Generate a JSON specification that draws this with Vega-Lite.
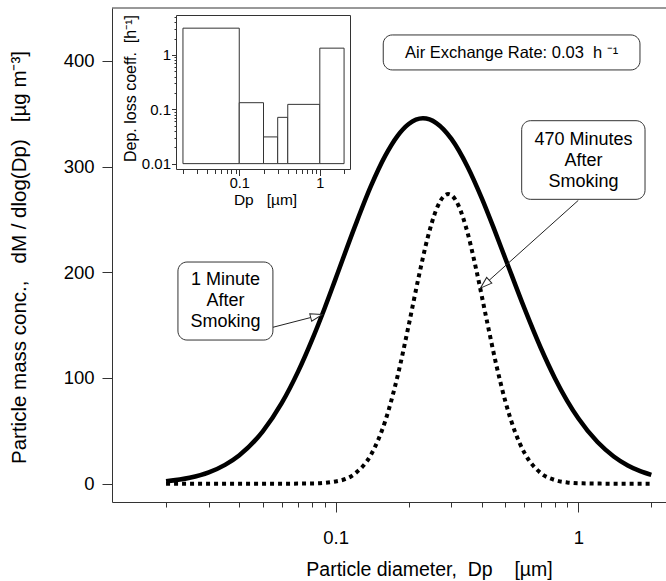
{
  "$schema": "https://vega.github.io/schema/vega-lite/v6.json",
  "width": 554,
  "height": 494,
  "autosize": {"type": "none"},
  "padding": {"left": 112, "top": 8, "right": 0, "bottom": 79},
  "background": "white",
  "config": {
    "font": "Liberation Sans",
    "view": {"stroke": null},
    "axis": {"grid": false, "labelColor": "#000", "titleColor": "#000", "titleFontWeight": "normal", "tickColor": "#333", "domainColor": "#333", "labelFlush": false, "labelOverlap": false}
  },
  "datasets": {
    "solid": [
      {"dp": 0.02, "conc": 2.3}, {"dp": 0.025, "conc": 5.6}, {"dp": 0.03, "conc": 10.7}, {"dp": 0.035, "conc": 17.8},
      {"dp": 0.04, "conc": 26.7}, {"dp": 0.05, "conc": 49.3}, {"dp": 0.06, "conc": 76.4}, {"dp": 0.07, "conc": 106.0},
      {"dp": 0.08, "conc": 136.3}, {"dp": 0.09, "conc": 165.8}, {"dp": 0.1, "conc": 194.0}, {"dp": 0.12, "conc": 243.2},
      {"dp": 0.14, "conc": 281.9}, {"dp": 0.16, "conc": 310.1}, {"dp": 0.18, "conc": 329.1}, {"dp": 0.2, "conc": 340.3},
      {"dp": 0.229, "conc": 345.6}, {"dp": 0.26, "conc": 341.2}, {"dp": 0.3, "conc": 326.2}, {"dp": 0.35, "conc": 299.7},
      {"dp": 0.4, "conc": 270.2}, {"dp": 0.45, "conc": 240.8}, {"dp": 0.5, "conc": 213.3}, {"dp": 0.6, "conc": 165.8},
      {"dp": 0.7, "conc": 128.6}, {"dp": 0.8, "conc": 100.1}, {"dp": 0.9, "conc": 78.4}, {"dp": 1.0, "conc": 61.9},
      {"dp": 1.2, "conc": 39.4}, {"dp": 1.4, "conc": 25.8}, {"dp": 1.6, "conc": 17.3}, {"dp": 1.8, "conc": 11.9},
      {"dp": 2.0, "conc": 8.4}
    ],
    "dotted": [
      {"dp": 0.02, "conc": 0}, {"dp": 0.05, "conc": 0}, {"dp": 0.08, "conc": 0.2}, {"dp": 0.1, "conc": 2.1},
      {"dp": 0.12, "conc": 9.5}, {"dp": 0.14, "conc": 27.6}, {"dp": 0.16, "conc": 59.1}, {"dp": 0.18, "conc": 101.8},
      {"dp": 0.2, "conc": 149.8}, {"dp": 0.22, "conc": 195.8}, {"dp": 0.24, "conc": 233.5}, {"dp": 0.26, "conc": 259.4},
      {"dp": 0.28, "conc": 272.2}, {"dp": 0.291, "conc": 274}, {"dp": 0.3, "conc": 272.9}, {"dp": 0.32, "conc": 263.7},
      {"dp": 0.35, "conc": 237.0}, {"dp": 0.38, "conc": 202.2}, {"dp": 0.42, "conc": 154.2}, {"dp": 0.46, "conc": 111.8},
      {"dp": 0.5, "conc": 78.3}, {"dp": 0.55, "conc": 48.4}, {"dp": 0.6, "conc": 29.2}, {"dp": 0.7, "conc": 10.1},
      {"dp": 0.8, "conc": 3.5}, {"dp": 0.9, "conc": 1.2}, {"dp": 1.0, "conc": 0.4}, {"dp": 1.5, "conc": 0},
      {"dp": 2.0, "conc": 0}
    ],
    "bars": [
      {"lo": 0.02, "hi": 0.1, "coef": 3.1},
      {"lo": 0.1, "hi": 0.2, "coef": 0.132},
      {"lo": 0.2, "hi": 0.3, "coef": 0.031},
      {"lo": 0.3, "hi": 0.4, "coef": 0.071},
      {"lo": 0.4, "hi": 1, "coef": 0.123},
      {"lo": 1, "hi": 2, "coef": 1.33}
    ]
  },
  "layer": [
    {
      "layer": [
        {
          "data": {"name": "solid"},
          "mark": {"type": "line", "color": "#000", "strokeWidth": 4.5, "interpolate": "monotone"},
          "encoding": {
            "x": {
              "field": "dp", "type": "quantitative",
              "scale": {"type": "log", "domain": [0.011975, 2.299], "nice": false, "zero": false},
              "axis": {
                "orient": "bottom",
                "values": [0.02, 0.03, 0.04, 0.05, 0.06, 0.07, 0.08, 0.09, 0.1, 0.2, 0.3, 0.4, 0.5, 0.6, 0.7, 0.8, 0.9, 1, 2],
                "labelExpr": "datum.value === 0.1 ? '0.1' : datum.value === 1 ? '1' : ''",
                "tickSize": {"condition": {"test": "datum.value === 0.1 || datum.value === 1", "value": 10}, "value": 5},
                "labelPadding": 16,
                "labelFontSize": 18.5,
                "title": "Particle diameter,\u00a0\u00a0Dp\u00a0\u00a0\u00a0\u00a0[µm]",
                "titleFontSize": 19.5,
                "titleX": 317,
                "titleY": 73,
                "titleBaseline": "alphabetic"
              }
            },
            "y": {
              "field": "conc", "type": "quantitative",
              "scale": {"domain": [-17.3, 450], "nice": false, "zero": false},
              "axis": {
                "orient": "left",
                "values": [0, 100, 200, 300, 400],
                "tickSize": 10,
                "labelPadding": 8,
                "labelFontSize": 18.5,
                "title": "Particle mass conc.,\u00a0\u00a0\u00a0dM / dlog(Dp)\u00a0\u00a0\u00a0[µg m⁻³]",
                "titleFontSize": 20.5,
                "titleX": -87,
                "titleY": 249,
                "titleBaseline": "alphabetic"
              }
            }
          }
        },
        {
          "data": {"name": "dotted"},
          "mark": {"type": "line", "color": "#000", "strokeWidth": 4, "strokeDash": [4, 4], "strokeCap": "butt", "interpolate": "monotone"},
          "encoding": {
            "x": {"field": "dp", "type": "quantitative"},
            "y": {"field": "conc", "type": "quantitative"}
          }
        },
        {
          "data": {"values": [{}]},
          "mark": {"type": "rule", "color": "#333", "strokeWidth": 1},
          "encoding": {"y": {"datum": 450, "type": "quantitative"}}
        },
        {
          "data": {"values": [{}]},
          "mark": {"type": "rect", "fill": "white", "stroke": "#333", "strokeWidth": 1, "cornerRadius": 9},
          "encoding": {
            "x": {"datum": 0.1571, "type": "quantitative"}, "x2": {"datum": 1.796},
            "y": {"datum": 391.4, "type": "quantitative"}, "y2": {"datum": 424.5}
          }
        },
        {
          "data": {"values": [{}]},
          "mark": {"type": "text", "fontSize": 16.5, "align": "center", "baseline": "middle", "color": "#000"},
          "encoding": {
            "x": {"datum": 0.5314, "type": "quantitative"},
            "y": {"datum": 407.5, "type": "quantitative"},
            "text": {"value": "Air Exchange Rate: 0.03\u00a0\u00a0h\u00a0⁻¹"}
          }
        },
        {
          "data": {"values": [{}]},
          "mark": {"type": "rect", "fill": "white", "stroke": "#333", "strokeWidth": 1, "cornerRadius": 9},
          "encoding": {
            "x": {"datum": 0.5844, "type": "quantitative"}, "x2": {"datum": 1.884},
            "y": {"datum": 269, "type": "quantitative"}, "y2": {"datum": 343.4}
          }
        },
        {
          "data": {"values": [{}]},
          "mark": {"type": "text", "fontSize": 18, "align": "center", "baseline": "middle", "lineHeight": 21, "dy": -21, "color": "#000"},
          "encoding": {
            "x": {"datum": 1.05, "type": "quantitative"},
            "y": {"datum": 305.5, "type": "quantitative"},
            "text": {"value": ["470 Minutes", "After", "Smoking"]}
          }
        },
        {
          "data": {"values": [{}]},
          "mark": {"type": "rect", "fill": "white", "stroke": "#333", "strokeWidth": 1, "cornerRadius": 9},
          "encoding": {
            "x": {"datum": 0.02239, "type": "quantitative"}, "x2": {"datum": 0.05514},
            "y": {"datum": 135.9, "type": "quantitative"}, "y2": {"datum": 209.7}
          }
        },
        {
          "data": {"values": [{}]},
          "mark": {"type": "text", "fontSize": 18, "align": "center", "baseline": "middle", "lineHeight": 21, "dy": -21, "color": "#000"},
          "encoding": {
            "x": {"datum": 0.03514, "type": "quantitative"},
            "y": {"datum": 173, "type": "quantitative"},
            "text": {"value": ["1 Minute", "After", "Smoking"]}
          }
        },
        {
          "data": {"values": [{}]},
          "mark": {"type": "rule", "color": "#222", "strokeWidth": 1},
          "encoding": {
            "x": {"datum": 0.0552, "type": "quantitative"}, "y": {"datum": 148, "type": "quantitative"},
            "x2": {"datum": 0.088}, "y2": {"datum": 160}
          }
        },
        {
          "data": {"values": [{}]},
          "mark": {"type": "point", "shape": "M0,0L-2,-0.65L-2,0.65Z", "size": 140, "filled": true, "fill": "white", "stroke": "#222", "strokeWidth": 1, "angle": -14.5, "opacity": 1},
          "encoding": {
            "x": {"datum": 0.088, "type": "quantitative"}, "y": {"datum": 160, "type": "quantitative"}
          }
        },
        {
          "data": {"values": [{}]},
          "mark": {"type": "rule", "color": "#222", "strokeWidth": 1},
          "encoding": {
            "x": {"datum": 1.0, "type": "quantitative"}, "y": {"datum": 268, "type": "quantitative"},
            "x2": {"datum": 0.395}, "y2": {"datum": 185}
          }
        },
        {
          "data": {"values": [{}]},
          "mark": {"type": "point", "shape": "M0,0L-2,-0.65L-2,0.65Z", "size": 140, "filled": true, "fill": "white", "stroke": "#222", "strokeWidth": 1, "angle": 138.15, "opacity": 1},
          "encoding": {
            "x": {"datum": 0.395, "type": "quantitative"}, "y": {"datum": 185, "type": "quantitative"}
          }
        }
      ]
    },
    {
      "layer": [
        {
          "data": {"values": [{}]},
          "mark": {"type": "rect", "fill": "white", "stroke": "#333", "strokeWidth": 1},
          "encoding": {
            "x": {
              "datum": 0.01663, "type": "quantitative",
              "scale": {"type": "log", "domain": [0.01663, 2.404], "range": [64.5, 238.5], "nice": false, "zero": false},
              "axis": {
                "orient": "bottom",
                "offset": -332.5,
                "domain": false,
                "values": [0.02, 0.03, 0.04, 0.05, 0.06, 0.07, 0.08, 0.09, 0.1, 0.2, 0.3, 0.4, 0.5, 0.6, 0.7, 0.8, 0.9, 1, 2],
                "labelExpr": "datum.value === 0.1 ? '0.1' : datum.value === 1 ? '1' : ''",
                "tickSize": {"condition": {"test": "datum.value === 0.1 || datum.value === 1", "value": 6}, "value": 4},
                "labelPadding": 1,
                "labelFontSize": 14.5,
                "title": "Dp\u00a0\u00a0\u00a0[µm]",
                "titleFontSize": 15.5,
                "titleX": 153,
                "titleY": 34.5,
                "titleBaseline": "alphabetic"
              }
            },
            "x2": {"datum": 2.404},
            "y": {
              "datum": 0.0078, "type": "quantitative",
              "scale": {"type": "log", "domain": [0.0078, 5.3], "range": [161.5, 7.5], "nice": false, "zero": false},
              "axis": {
                "orient": "left",
                "offset": -64.5,
                "domain": false,
                "values": [0.01, 0.02, 0.03, 0.04, 0.05, 0.06, 0.07, 0.08, 0.09, 0.1, 0.2, 0.3, 0.4, 0.5, 0.6, 0.7, 0.8, 0.9, 1, 2, 3, 4, 5],
                "labelExpr": "datum.value === 0.01 ? '0.01' : datum.value === 0.1 ? '0.1' : datum.value === 1 ? '1' : ''",
                "tickSize": {"condition": {"test": "datum.value === 0.01 || datum.value === 0.1 || datum.value === 1", "value": 5}, "value": 2.5},
                "labelPadding": 1,
                "labelFontSize": 15,
                "title": "Dep. loss coeff.\u00a0\u00a0[h⁻¹]",
                "titleFontSize": 16,
                "titleX": -41,
                "titleY": 80,
                "titleBaseline": "alphabetic"
              }
            },
            "y2": {"datum": 5.3}
          }
        },
        {
          "data": {"name": "bars"},
          "mark": {"type": "rect", "fill": "white", "stroke": "#333", "strokeWidth": 1},
          "encoding": {
            "x": {"field": "lo", "type": "quantitative"},
            "x2": {"field": "hi"},
            "y": {"field": "coef", "type": "quantitative"},
            "y2": {"datum": 0.01}
          }
        }
      ]
    }
  ],
  "resolve": {"scale": {"x": "independent", "y": "independent"}, "axis": {"x": "independent", "y": "independent"}}
}
